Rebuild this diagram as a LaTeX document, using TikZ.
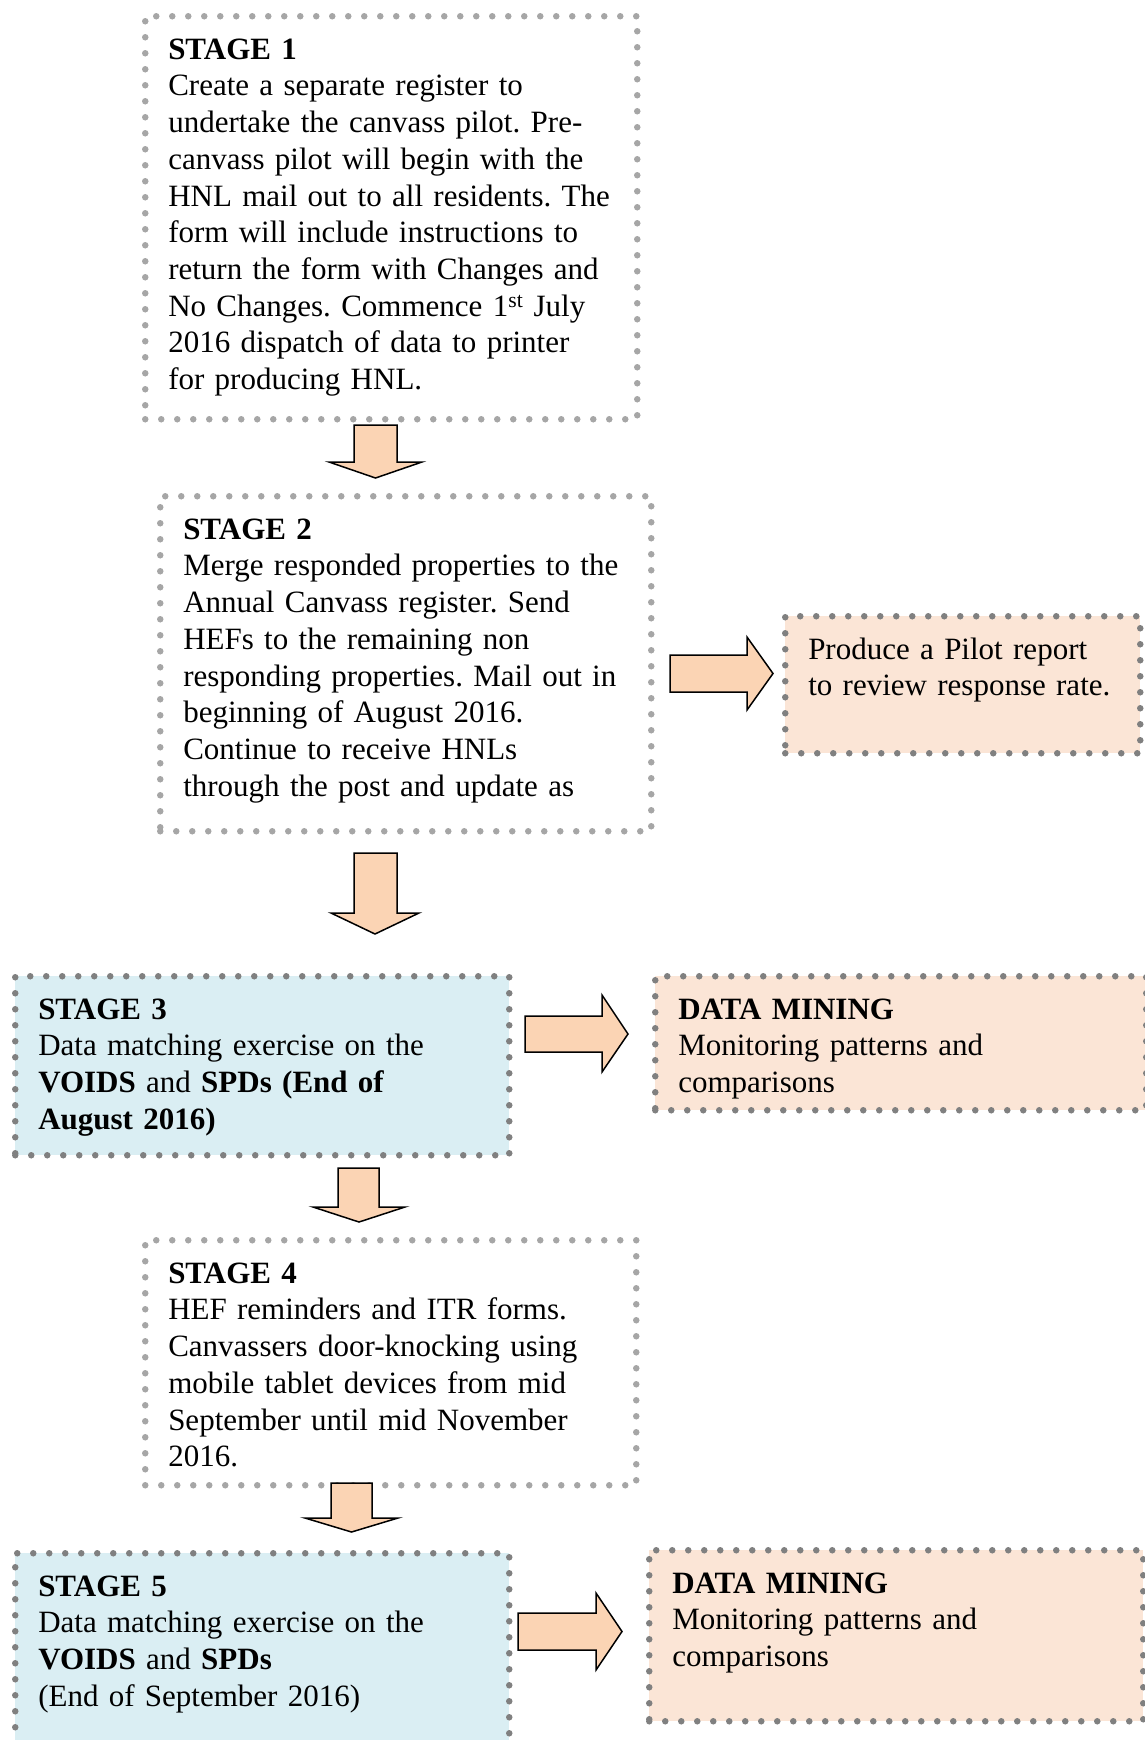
\documentclass[tikz,border=0pt]{standalone}
\usepackage{fontspec}
\setmainfont{Liberation Serif}

\definecolor{dotlight}{HTML}{A6A6A6}
\definecolor{dotdark}{HTML}{808080}
\definecolor{stageblue}{HTML}{DAEEF3}
\definecolor{minepeach}{HTML}{FBE5D6}
\definecolor{arrowpeach}{HTML}{FBD4B4}

\begin{document}
\begin{tikzpicture}[
  x=1pt, y=-1pt,
  stagebox/.style={draw=dotlight, line width=6.5pt, dash pattern=on 0pt off 16pt, line cap=round,
    anchor=north west, align=left, inner xsep=23pt, inner ysep=18pt, text height=25pt,
    font=\fontsize{31}{36.7}\selectfont\frenchspacing,
    execute at begin node={\rightskip=-60pt plus 1fil\relax}},
  colbox/.style={stagebox, draw=dotdark},
  fatarrow/.style={draw=black, fill=arrowpeach, line width=1.5pt, line join=miter},
]
\useasboundingbox (0,0) rectangle (1145,1740);
\fill[white] (0,0) rectangle (1145,1740);

\node[stagebox, text width=446pt, text depth=342pt] (stage1) at (142,13) {\textbf{STAGE 1}\\
Create a separate register to\\
undertake the canvass pilot. Pre-\\
canvass pilot will begin with the\\
HNL mail out to all residents. The\\
form will include instructions to\\
return the form with Changes and\\
No Changes. Commence 1\textsuperscript{st} July\\
2016 dispatch of data to printer\\
for producing HNL.};

\node[stagebox, text width=445pt, text depth=274pt] (stage2) at (157,493) {\textbf{STAGE 2}\\
Merge responded properties to the\\
Annual Canvass register. Send\\
HEFs to the remaining non\\
responding properties. Mail out in\\
beginning of August 2016.\\
Continue to receive HNLs\\
through the post and update as};

\node[colbox, fill=minepeach, text width=309pt, text depth=76pt] (pilot) at (782,613) {Produce a Pilot report\\
to review response rate.};

\node[colbox, fill=stageblue, text width=448pt, text depth=118pt] (stage3) at (12,973) {\textbf{STAGE 3}\\
Data matching exercise on the\\
\textbf{VOIDS} and \textbf{SPDs (End of}\\
\textbf{August 2016)}};

\node[colbox, fill=minepeach, text width=445pt, text depth=73pt] (mining1) at (652,973) {\textbf{DATA MINING}\\
Monitoring patterns and\\
comparisons};

\node[stagebox, text width=445pt, text depth=184pt] (stage4) at (142,1237) {\textbf{STAGE 4}\\
HEF reminders and ITR forms.\\
Canvassers door-knocking using\\
mobile tablet devices from mid\\
September until mid November\\
2016.};

\node[colbox, fill=stageblue, text width=448pt, text depth=169pt] (stage5) at (12,1550) {\textbf{STAGE 5}\\
Data matching exercise on the\\
\textbf{VOIDS} and \textbf{SPDs}\\
(End of September 2016)};

\node[colbox, fill=minepeach, text width=448pt, text depth=110pt] (mining2) at (646,1547) {\textbf{DATA MINING}\\
Monitoring patterns and\\
comparisons};

% block arrows
\draw[fatarrow] (354,425) -- (397,425) -- (397,462) -- (422,462) -- (375.5,478) -- (329,462) -- (354,462) -- cycle;
\draw[fatarrow] (354,853) -- (397,853) -- (397,913) -- (419,913) -- (375,934) -- (331,913) -- (354,913) -- cycle;
\draw[fatarrow] (670,655) -- (747,655) -- (747,637) -- (773,673.5) -- (747,710) -- (747,692) -- (670,692) -- cycle;
\draw[fatarrow] (525,1016) -- (602,1016) -- (602,995) -- (628,1034) -- (602,1072) -- (602,1052) -- (525,1052) -- cycle;
\draw[fatarrow] (338,1168) -- (379,1168) -- (379,1207) -- (405,1207) -- (359,1222) -- (313,1207) -- (338,1207) -- cycle;
\draw[fatarrow] (331,1483) -- (372,1483) -- (372,1518) -- (398,1518) -- (351.5,1532) -- (305,1518) -- (331,1518) -- cycle;
\draw[fatarrow] (518,1613) -- (596,1613) -- (596,1593) -- (622,1631.5) -- (596,1670) -- (596,1650) -- (518,1650) -- cycle;

\end{tikzpicture}
\end{document}
